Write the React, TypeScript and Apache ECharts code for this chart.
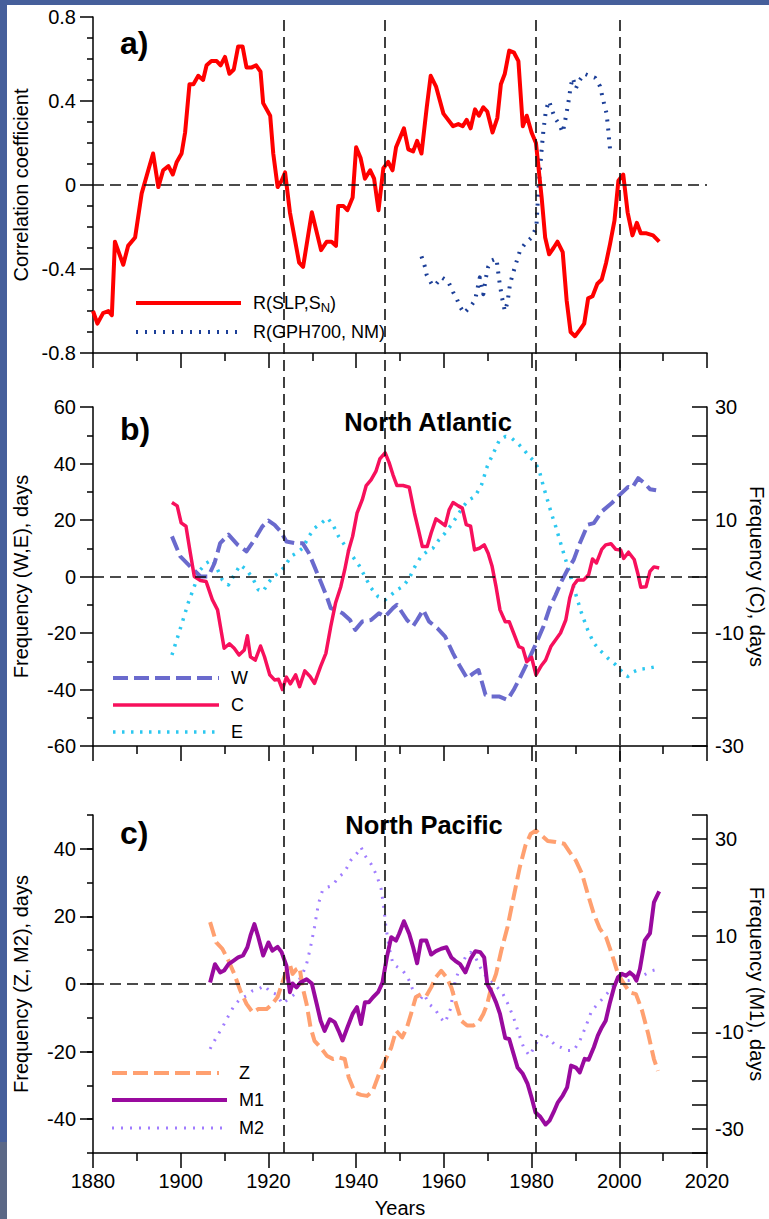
import React, { useEffect, useRef } from 'react';
import * as echarts from 'echarts';

// ---------- data ----------
const YEAR_MIN = 1880;
const YEAR_MAX = 2020;
const epochYears = [1923.5, 1946.5, 1981, 2000];

// panel a: correlation coefficients
const slpSn: [number, number][] = [
  [1880, -0.6], [1881, -0.66], [1882.3, -0.61], [1883.5, -0.6], [1884.3, -0.62], [1885, -0.27],
  [1886.9, -0.38], [1888, -0.29], [1889.6, -0.25], [1891.1, -0.04], [1892.6, 0.07], [1893.7, 0.15],
  [1894.9, -0.01], [1896, 0.07], [1897.2, 0.09], [1898.2, 0.05], [1899.1, 0.11], [1900.2, 0.15],
  [1901, 0.25], [1902, 0.48], [1902.9, 0.48], [1904, 0.52], [1905.1, 0.5], [1905.9, 0.57],
  [1907, 0.59], [1908.2, 0.59], [1909.1, 0.57], [1910.1, 0.61], [1911.1, 0.53], [1912.1, 0.55],
  [1913.1, 0.66], [1914.1, 0.66], [1915, 0.56], [1916.2, 0.56], [1917.2, 0.57], [1918.2, 0.54],
  [1918.8, 0.39], [1920.4, 0.33], [1921.1, 0.15], [1922.1, -0.01], [1923, 0.02], [1923.8, 0.06],
  [1924.9, -0.13], [1927, -0.37], [1927.9, -0.39], [1929.9, -0.13], [1932, -0.31], [1933.3, -0.27],
  [1934.4, -0.27], [1935.4, -0.29], [1935.9, -0.1], [1937.1, -0.1], [1938, -0.12], [1939.2, -0.06],
  [1940, 0.18], [1941, 0.13], [1942, 0.03], [1943.2, 0.07], [1944.1, 0.03], [1945.1, -0.12],
  [1946.2, 0.08], [1947.3, 0.11], [1948.3, 0.07], [1949.1, 0.18], [1950.9, 0.27], [1951.9, 0.17],
  [1953, 0.16], [1953.9, 0.21], [1954.9, 0.15], [1956.1, 0.37], [1957, 0.52], [1958.2, 0.47],
  [1959.9, 0.34], [1962.1, 0.28], [1963.3, 0.29], [1964.3, 0.28], [1965.2, 0.31], [1966.1, 0.27],
  [1967.1, 0.36], [1968, 0.33], [1969, 0.37], [1969.9, 0.35], [1971.1, 0.25], [1972.2, 0.32],
  [1973, 0.48], [1973.9, 0.53], [1974.9, 0.64], [1976, 0.63], [1977, 0.59], [1978, 0.28],
  [1978.9, 0.33], [1980, 0.25], [1981, 0.2], [1981.8, 0.04], [1982.3, -0.06], [1983.1, -0.25],
  [1984, -0.33], [1985, -0.3], [1985.9, -0.27], [1987.1, -0.32], [1988, -0.55], [1988.9, -0.7],
  [1989.9, -0.72], [1991, -0.69], [1992, -0.66], [1992.9, -0.54], [1993.9, -0.53], [1995, -0.47],
  [1996, -0.45], [1997, -0.37], [1997.9, -0.28], [1998.9, -0.17], [1999.8, 0.02], [2000.9, 0.05],
  [2001.9, -0.13], [2003, -0.24], [2004, -0.18], [2004.9, -0.23], [2006.2, -0.23], [2007.7, -0.24],
  [2009.1, -0.27],
];

const gph700Nm: [number, number][] = [
  [1954.9, -0.34], [1955.7, -0.39], [1956.1, -0.43], [1957.2, -0.47], [1957.9, -0.48], [1959.5, -0.44],
  [1961, -0.46], [1962.1, -0.51], [1962.9, -0.54], [1963.7, -0.58], [1964.6, -0.61], [1966, -0.58],
  [1967.1, -0.55], [1967.8, -0.48], [1968.2, -0.44], [1969, -0.52], [1969.6, -0.44], [1970.1, -0.39],
  [1970.9, -0.36], [1972, -0.35], [1972.6, -0.45], [1973.2, -0.53], [1973.9, -0.6], [1974.5, -0.56],
  [1975.1, -0.47], [1976.2, -0.39], [1977.4, -0.31], [1978.5, -0.28], [1980, -0.25], [1981.1, -0.2],
  [1981.3, -0.12], [1981.5, -0.04], [1981.9, 0.07], [1982.3, 0.17], [1982.7, 0.26], [1983.3, 0.36],
  [1984, 0.4], [1984.6, 0.36], [1985.3, 0.32], [1986.3, 0.29], [1987.1, 0.25], [1987.6, 0.3],
  [1988.2, 0.37], [1988.6, 0.42], [1988.9, 0.47], [1989.4, 0.51], [1990.1, 0.46], [1991, 0.5],
  [1992, 0.53], [1993.2, 0.52], [1994.5, 0.51], [1995.6, 0.47], [1996.5, 0.39], [1997.1, 0.34],
  [1997.5, 0.26], [1997.7, 0.21], [1997.9, 0.17],
];

// panel b: North Atlantic (W, E on left axis; C on right axis)
const wFreq: [number, number][] = [
  [1898, 14.2], [1899.9, 7.1], [1902.2, 3.5], [1904.5, 0], [1906.3, 0], [1907.7, 4.7], [1909, 11.8],
  [1910.9, 14.8], [1913, 11.2], [1915, 8.9], [1916.8, 13], [1918.6, 17.7], [1920, 19.8], [1921.4, 18.3],
  [1922.8, 15.9], [1924.1, 12.4], [1926, 11.8], [1927.8, 11.8], [1929.2, 8.3], [1930.5, 3.5],
  [1931.9, -1.8], [1933.3, -7.1], [1934.2, -11.2], [1935.6, -12], [1936.9, -13], [1938.6, -15.4],
  [1939.8, -18.9], [1941.4, -15.9], [1943.4, -15.4], [1945.2, -13], [1946.6, -14.2], [1948.4, -11.2],
  [1949.3, -10], [1951.6, -15.4], [1953, -17.5], [1953.9, -15.4], [1955.3, -11.8], [1956.6, -15.9],
  [1958.5, -18.3], [1960.3, -21.3], [1962.1, -27.2], [1963.5, -31.3], [1965.3, -36], [1966.7, -34.3],
  [1967.9, -33.1], [1969.5, -41.9], [1970.8, -42.5], [1972.7, -42.5], [1974.5, -43.7], [1975.9, -40.2],
  [1977.3, -36], [1978.6, -31.9], [1980, -27.2], [1981.4, -22.4], [1982.7, -17.7], [1984.1, -11.2],
  [1985.5, -6.5], [1986.8, -1.8], [1988.2, 2.4], [1989.6, 5.9], [1991, 11.8], [1992.8, 18.3],
  [1994.2, 18.9], [1996, 23], [1998.3, 26], [2000.1, 28.9], [2002, 31.7], [2002.9, 31.3],
  [2004.3, 34.8], [2005.7, 33.1], [2007, 30.9], [2008.4, 30.5],
];

const cFreq: [number, number][] = [
  [1898, 13.1], [1899.2, 12.5], [1900.1, 9.5], [1901.2, 8.9], [1902.2, 4.1], [1903.1, 0], [1904.5, -0.7],
  [1905.8, -0.9], [1907.2, -4.1], [1908.4, -5.9], [1909.9, -12.7], [1911.1, -11.9], [1912.2, -12.7],
  [1913.3, -13.9], [1914.5, -13], [1915.2, -10.5], [1915.9, -14.2], [1917, -14.8], [1918.2, -12.3],
  [1919.1, -14.2], [1920.3, -17.4], [1921.4, -18.3], [1922.3, -18.2], [1923.2, -20], [1924.1, -17.8],
  [1925, -19], [1926.2, -17.4], [1927.1, -19.5], [1928.3, -16.7], [1929.5, -17.7], [1930.5, -18.9],
  [1931.9, -15.9], [1933.1, -13.6], [1934.2, -8.9], [1935.3, -4.7], [1936.5, -1.8], [1937.4, 1.2],
  [1938.3, 4.7], [1939.2, 7.1], [1940.2, 11.2], [1941.4, 13.6], [1942.3, 16.1], [1943.4, 17.1],
  [1944.5, 18.6], [1945.4, 20.8], [1946.6, 21.9], [1947.5, 20.2], [1948.4, 18], [1949.3, 16.1],
  [1950.7, 16.1], [1952.1, 15.8], [1953.3, 11.2], [1954.2, 8.3], [1955.1, 5.3], [1956.2, 5.3],
  [1957.1, 7.7], [1958.2, 10.2], [1959.1, 9.7], [1960.3, 9], [1961.2, 11.8], [1962.1, 13.1],
  [1963.3, 12.5], [1964.2, 12.1], [1965.1, 9.2], [1966.1, 8.9], [1967, 4.7], [1968.1, 5], [1969.2, 5.6],
  [1970.1, 4.1], [1971, 1.8], [1971.9, -1.8], [1972.8, -5.9], [1974, -8], [1974.9, -8], [1975.9, -10],
  [1977.1, -12.4], [1978, -12.7], [1978.9, -15.1], [1980, -14.3], [1981, -17.4], [1982.3, -15.7],
  [1983.2, -14.8], [1984.4, -12.4], [1985.5, -11.2], [1986.6, -10], [1987.8, -7.7], [1988.7, -3.8],
  [1989.6, -1.5], [1990.5, -0.6], [1991.9, -0.6], [1993, 0.3], [1993.9, 3.1], [1994.8, 2.4], [1996, 4.8],
  [1996.9, 5.6], [1998.1, 5.8], [1999.2, 4.8], [2000.3, 4.7], [2001, 3.2], [2002.1, 4.3], [2003.4, 3],
  [2004.3, 0.3], [2004.9, -1.9], [2006.1, -1.8], [2007, 0.9], [2007.9, 1.7], [2009.1, 1.5],
];

const eFreq: [number, number][] = [
  [1898, -27.8], [1899.2, -21.9], [1900.3, -16.5], [1901.7, -9.4], [1903.1, -3.5], [1904.5, 2.4],
  [1905.8, 4.7], [1907.2, 5.9], [1908.4, 2.4], [1909.5, -1.2], [1910.9, -3], [1912.2, 0.6], [1913.6, 4.1],
  [1915, 2.4], [1916.4, -0.6], [1917.7, -4.7], [1918.8, -5.3], [1920, -2.1], [1921.2, 0], [1922.3, 1.2],
  [1923.7, 3.5], [1925.1, 7.1], [1926.4, 8.3], [1927.8, 10], [1929.2, 14.2], [1930.5, 17.1],
  [1931.9, 18.7], [1933.5, 20.7], [1934.7, 18.3], [1936, 14.2], [1937.9, 10], [1939.2, 7.1],
  [1940.6, 4.1], [1942, 0], [1943.4, -4.1], [1945, -7.1], [1946.6, -8.3], [1948, -6.5], [1949.3, -4.7],
  [1950.7, -3.5], [1952.1, -0.6], [1953.4, 3.5], [1954.8, 7.1], [1956.2, 8.9], [1957.5, 10],
  [1958.9, 13], [1960.3, 15.4], [1961.7, 18.3], [1963, 21.3], [1964.4, 24.8], [1965.8, 27.2],
  [1967.1, 28.3], [1968.6, 32.5], [1969.9, 39], [1971.3, 43.7], [1972.7, 48.4], [1974.1, 49.6],
  [1975.4, 49], [1976.8, 47.2], [1978.2, 44.9], [1979.5, 42.5], [1980.9, 40.2], [1981.8, 37.2],
  [1982.7, 31.9], [1983.6, 27.2], [1984.5, 22.4], [1985.5, 17.7], [1986.4, 13], [1987.3, 8.3],
  [1988.7, 1.2], [1990, -5.9], [1991.4, -13], [1992.8, -18.9], [1994.2, -23.6], [1995.5, -26],
  [1997.4, -28.9], [1999.2, -31.3], [2000.6, -33.7], [2001.9, -35.4], [2003.3, -33.7], [2004.7, -32.8],
  [2006.5, -32.5], [2008.4, -31.9],
];

// panel c: North Pacific (Z, M2 on left axis; M1 on right axis)
const zFreq: [number, number][] = [
  [1906.7, 18.3], [1908.1, 12.3], [1909.5, 10.4], [1910.9, 6.9], [1912.2, 3], [1913.6, -2], [1915, -5.9],
  [1916.4, -8.4], [1917.7, -7.4], [1919.6, -7.4], [1920.9, -5.9], [1922.1, -3.8], [1923.2, 0.5],
  [1924.1, 3.9], [1924.9, 5.7], [1925.5, 3], [1926.4, 4.4], [1927.1, 4.9], [1927.8, -1], [1928.7, -5.9],
  [1929.6, -12.8], [1930.5, -16.8], [1931.9, -18.8], [1933.3, -21.2], [1934.7, -22.2], [1936, -21.7],
  [1937.4, -22.2], [1938.3, -27.6], [1939.7, -32.1], [1941.1, -32.8], [1942.5, -33.1], [1943.8, -31.6],
  [1945.2, -26.7], [1946.6, -22.7], [1948, -18.8], [1949.1, -13.8], [1950.5, -15.8], [1951.6, -12.8],
  [1952.5, -8.9], [1953.6, -3.9], [1954.8, -3], [1956, -3.5], [1957.1, -1], [1958.2, 2], [1959.4, 3.9],
  [1960.6, 2], [1961.7, -1], [1962.8, -5.9], [1964, -10.9], [1965.3, -12.3], [1966.7, -12.3],
  [1967.9, -11.4], [1969, -8.9], [1969.9, -5.9], [1970.8, -1], [1971.9, 3], [1973.1, 9.9], [1974.5, 16.8],
  [1975.9, 25.7], [1977.3, 34.5], [1978.6, 41], [1979.8, 44.4], [1981, 45.4], [1982.3, 43.9],
  [1983.7, 42.3], [1985.5, 42], [1987.4, 41.5], [1988.7, 39], [1990.1, 36.5], [1991.5, 32.6],
  [1992.8, 26.7], [1994.2, 20.7], [1995.6, 16.3], [1997, 13.8], [1998.3, 8.9], [1999.7, 3], [2001.1, 0],
  [2002.4, -2.5], [2003.8, -3], [2005.2, -7.9], [2006.6, -14.8], [2007.9, -22.2], [2008.8, -25.7],
];

const m1Freq: [number, number][] = [
  [1906.7, 0.3], [1907.8, 4.1], [1909, 2.4], [1909.9, 2.8], [1910.9, 4.1], [1912, 4.8], [1913.1, 5.5],
  [1914.2, 5.9], [1915.2, 7.6], [1915.9, 10], [1916.8, 12.4], [1917.7, 9.7], [1918.8, 5.9], [1920, 8.6],
  [1920.9, 6.9], [1922.1, 7.7], [1923, 6.6], [1924.1, 3.8], [1924.9, -1.7], [1925.5, 0.1], [1926.4, -0.7],
  [1927.3, 0.3], [1928.7, 1], [1929.9, 0.1], [1931, -4.1], [1931.9, -7.6], [1932.8, -9.7], [1934, -7.3],
  [1935.1, -7.9], [1936, -9.7], [1936.9, -11.7], [1938, -9], [1939.2, -6.2], [1940.2, -4.8],
  [1941.1, -8.3], [1942, -3.8], [1942.9, -3.8], [1943.8, -2.8], [1945, -1.7], [1946, 0.3], [1947, 5.5],
  [1948, 9.7], [1949.1, 9], [1949.8, 10.4], [1950.9, 13], [1952.1, 10.4], [1953, 7.6], [1953.9, 4.3],
  [1954.8, 9], [1956, 9], [1957.1, 6.1], [1958.2, 6.8], [1959.4, 7.3], [1960.6, 7.6], [1961.7, 5.5],
  [1962.6, 4.8], [1963.7, 4.1], [1964.9, 2.4], [1966.1, 5.2], [1967.2, 6.8], [1968.3, 6.6], [1969.2, 5.5],
  [1969.9, 0], [1970.8, -1.5], [1971.9, -3.8], [1972.8, -6.2], [1974, -11.2], [1974.9, -11.4],
  [1975.9, -14.5], [1976.8, -17.3], [1978, -18.6], [1979.1, -20.7], [1980, -23.5], [1980.9, -26.6],
  [1982, -27.5], [1983.2, -29.1], [1984.1, -28.3], [1985, -26.6], [1986, -24.5], [1987.1, -23.1],
  [1988.1, -21.4], [1989, -16.9], [1990.1, -17.3], [1991, -18.3], [1992.1, -15.5], [1993, -15.7],
  [1994.2, -13.1], [1995.1, -10.7], [1996, -9], [1996.9, -7.6], [1997.8, -4.1], [1998.8, -0.7],
  [1999.7, 1.4], [2000.6, 2.1], [2001.5, 1.7], [2002.4, 2.4], [2003.3, 1.7], [2003.9, 0.7], [2004.7, 3.1],
  [2005.8, 9], [2007, 10.5], [2007.9, 16.9], [2009.1, 19.2],
];

const m2Freq: [number, number][] = [
  [1906.7, -19.2], [1908.1, -15.8], [1909.5, -12.8], [1910.9, -9.4], [1912.2, -6.4], [1913.6, -4.4],
  [1915, -3.5], [1916.4, -2], [1917.7, -1.5], [1919.1, -0.5], [1920.5, -2.5], [1921.8, -3], [1923.2, -5.9],
  [1924.6, -4.4], [1926, -3], [1926.9, 1], [1927.8, 3], [1928.7, 5.9], [1929.6, 10.9], [1930.5, 16.8],
  [1931.4, 23.7], [1932.3, 27.6], [1933.3, 28.6], [1934.6, 29.1], [1936, 31.6], [1937.4, 33.1],
  [1938.7, 36.5], [1940.1, 38.5], [1941.1, 40.5], [1942, 38], [1943.4, 35.5], [1944.7, 32.1],
  [1945.7, 28.1], [1946.3, 22.7], [1946.8, 16.8], [1947.5, 10.9], [1948.4, 5.9], [1949.6, 4.9],
  [1950.7, 3.9], [1952.1, 1], [1953.3, -3], [1954.4, -4.9], [1955.5, -3], [1956.6, -5.9], [1958, -7.4],
  [1959.1, -9.9], [1960.3, -11.4], [1961.5, -7.4], [1962.6, 1], [1963.7, 4.9], [1964.9, 7.9],
  [1966.1, 9.4], [1967.2, 7.9], [1968.3, 4.9], [1969.5, 2.5], [1970.8, 1], [1972.2, -1], [1973.5, -3],
  [1974.6, -5.9], [1975.9, -9.9], [1977.1, -14.8], [1978.2, -18.8], [1979.5, -21.2], [1980.4, -19.2],
  [1981.6, -16.3], [1982.7, -14.3], [1984.1, -16.3], [1985.5, -18.3], [1986.8, -18.8], [1988.2, -19.7],
  [1989.6, -19.7], [1991, -16.8], [1992.3, -12.8], [1993.7, -7.9], [1995.1, -5.9], [1996.5, -3.9],
  [1997.8, -2], [1999.2, 0.5], [2000.6, 1], [2002, 1], [2003.3, 1.5], [2004.7, 2], [2006.1, 3],
  [2007.4, 3.9], [2008.8, 4.4],
];

const panelCMajorTicks = [-40, -20, 0, 20, 40];
const rightLabelValues = [-30, -10, 10, 30];

// ---------- styles ----------
const FONT = '"Liberation Sans", Arial, Helvetica, sans-serif';
const BLACK = '#000000';
const COL = {
  red: '#ff0000',
  navy: '#1c3f98',
  w: '#6a6acd',
  c: '#f7105c',
  e: '#2cc8f0',
  z: '#ffa070',
  m1: '#990a9e',
  m2: '#a07cff',
};
const tickStyle = { color: BLACK, width: 1.5 };
const refLine = { color: '#111111', width: 1.6, type: [11, 6] as number[] };

const GRID_LEFT = 93;
const GRID_W = 614;

function xAxisFor(gridIndex: number, withLabels: boolean) {
  return {
    type: 'value',
    gridIndex,
    min: YEAR_MIN,
    max: YEAR_MAX,
    interval: 20,
    axisLine: { show: true, onZero: false, lineStyle: tickStyle },
    axisTick: { show: true, inside: false, length: 15, lineStyle: tickStyle },
    minorTick: { show: true, splitNumber: 2, length: 8, lineStyle: tickStyle },
    splitLine: { show: false },
    minorSplitLine: { show: false },
    axisLabel: {
      show: withLabels,
      formatter: (v: number) => String(v),
      fontSize: 20,
      color: BLACK,
      fontFamily: FONT,
      margin: 18,
    },
    name: withLabels ? 'Years' : '',
    nameLocation: 'middle',
    nameGap: 45,
    nameTextStyle: { fontSize: 20, color: BLACK, fontFamily: FONT },
  };
}

const nameStyle = { fontSize: 20, color: BLACK, fontFamily: FONT };
const labelStyle = { fontSize: 20, color: BLACK, fontFamily: FONT };

function zeroMark() {
  return {
    silent: true,
    symbol: ['none', 'none'],
    label: { show: false },
    lineStyle: refLine,
    emphasis: { disabled: true },
    data: [{ yAxis: 0 }],
  };
}

function lineSeries(
  name: string,
  data: [number, number][],
  xAxisIndex: number,
  yAxisIndex: number,
  color: string,
  width: number,
  type: any,
  extra: any = {}
) {
  return {
    name,
    type: 'line',
    data,
    xAxisIndex,
    yAxisIndex,
    showSymbol: false,
    symbol: 'none',
    smooth: false,
    z: 3,
    lineStyle: { color, width, type, cap: 'butt', join: 'round' },
    emphasis: { disabled: true },
    ...extra,
  };
}

function legendLine(x1: number, x2: number, y: number, color: string, width: number, dash: number[] | null) {
  return {
    type: 'line',
    shape: { x1, y1: y, x2, y2: y },
    style: { stroke: color, lineWidth: width, lineDash: dash || undefined, lineCap: 'butt' },
    z: 10,
  };
}

function legendText(x: number, y: number, text: string) {
  return {
    type: 'text',
    x,
    y,
    style: { text, fontSize: 18, fontFamily: FONT, fill: BLACK, align: 'left', verticalAlign: 'middle' },
    z: 10,
  };
}

function boldText(x: number, y: number, text: string, size: number, align: string, vAlign: string) {
  return {
    type: 'text',
    x,
    y,
    style: { text, fontSize: size, fontWeight: 'bold', fontFamily: FONT, fill: BLACK, align, verticalAlign: vAlign },
    z: 10,
  };
}

export default function App() {
  const ref = useRef<HTMLDivElement>(null);

  useEffect(() => {
    if (!ref.current) return;
    const chart = echarts.init(ref.current, null, { renderer: 'svg' });

    const rightFormatter = (v: number) => (rightLabelValues.indexOf(Math.round(v)) >= 0 ? String(Math.round(v)) : '');

    const option: any = {
      animation: false,
      backgroundColor: '#ffffff',
      textStyle: { fontFamily: FONT },
      grid: [
        { left: GRID_LEFT, top: 17, width: GRID_W, height: 336, outerBoundsMode: 'none', containLabel: false },
        { left: GRID_LEFT, top: 407, width: GRID_W, height: 339, outerBoundsMode: 'none', containLabel: false },
        { left: GRID_LEFT, top: 815, width: GRID_W, height: 338, outerBoundsMode: 'none', containLabel: false },
        { left: GRID_LEFT, top: 20, width: GRID_W, height: 1133, outerBoundsMode: 'none', containLabel: false },
      ],
      xAxis: [
        xAxisFor(0, false),
        xAxisFor(1, false),
        xAxisFor(2, true),
        { type: 'value', gridIndex: 3, min: YEAR_MIN, max: YEAR_MAX, show: false },
      ],
      yAxis: [
        // 0: panel a
        {
          type: 'value', gridIndex: 0, position: 'left', min: -0.8, max: 0.8, interval: 0.4,
          axisLine: { show: true, lineStyle: tickStyle },
          axisTick: { show: true, inside: false, length: 13, lineStyle: tickStyle },
          minorTick: { show: true, splitNumber: 4, length: 6, lineStyle: tickStyle },
          splitLine: { show: false }, minorSplitLine: { show: false },
          axisLabel: { ...labelStyle, margin: 17, formatter: (v: number) => String(Math.round(v * 10) / 10) },
          name: 'Correlation coefficient', nameLocation: 'middle', nameGap: 62, nameTextStyle: nameStyle,
          nameMoveOverlap: false,
        },
        // 1: panel b left
        {
          type: 'value', gridIndex: 1, position: 'left', min: -60, max: 60, interval: 20,
          axisLine: { show: true, lineStyle: tickStyle },
          axisTick: { show: true, inside: false, length: 13, lineStyle: tickStyle },
          minorTick: { show: true, splitNumber: 2, length: 6, lineStyle: tickStyle },
          splitLine: { show: false }, minorSplitLine: { show: false },
          axisLabel: { ...labelStyle, margin: 17 },
          name: 'Frequency (W,E), days', nameLocation: 'middle', nameGap: 62, nameTextStyle: nameStyle,
          nameMoveOverlap: false,
        },
        // 2: panel b right
        {
          type: 'value', gridIndex: 1, position: 'right', min: -30, max: 30, interval: 5,
          axisLine: { show: true, lineStyle: tickStyle },
          axisTick: { show: true, inside: true, length: 15, lineStyle: tickStyle },
          splitLine: { show: false },
          axisLabel: { ...labelStyle, margin: 8, formatter: rightFormatter },
          name: 'Frequency (C), days', nameLocation: 'middle', nameGap: 40, nameRotate: -90,
          nameTextStyle: nameStyle, nameMoveOverlap: false,
        },
        // 3: panel c left (line + minor ticks)
        {
          type: 'value', gridIndex: 2, position: 'left', min: -50, max: 50, interval: 10,
          axisLine: { show: true, lineStyle: tickStyle },
          axisTick: { show: true, inside: false, length: 6, lineStyle: tickStyle },
          splitLine: { show: false },
          axisLabel: { show: false },
          name: 'Frequency (Z, M2), days', nameLocation: 'middle', nameGap: 62, nameTextStyle: nameStyle,
          nameMoveOverlap: false,
        },
        // 4: panel c left (major ticks + labels)
        {
          type: 'value', gridIndex: 2, position: 'left', min: -50, max: 50,
          axisLine: { show: false },
          axisTick: { show: true, inside: false, length: 13, lineStyle: tickStyle, customValues: panelCMajorTicks },
          splitLine: { show: false },
          axisLabel: { ...labelStyle, margin: 17, customValues: panelCMajorTicks },
        },
        // 5: panel c right
        {
          type: 'value', gridIndex: 2, position: 'right', min: -35, max: 35, interval: 5,
          axisLine: { show: true, lineStyle: tickStyle },
          axisTick: { show: true, inside: true, length: 15, lineStyle: tickStyle },
          splitLine: { show: false },
          axisLabel: { ...labelStyle, margin: 8, formatter: rightFormatter },
          name: 'Frequency (M1), days', nameLocation: 'middle', nameGap: 40, nameRotate: -90,
          nameTextStyle: nameStyle, nameMoveOverlap: false,
        },
        // 6: overlay for epoch lines
        { type: 'value', gridIndex: 3, min: 0, max: 1, show: false },
      ],
      series: [
        {
          type: 'line', xAxisIndex: 3, yAxisIndex: 6, data: [], z: 1, symbol: 'none',
          markLine: {
            silent: true, symbol: ['none', 'none'], label: { show: false }, lineStyle: refLine,
            emphasis: { disabled: true },
            data: epochYears.map((y) => ({ xAxis: y })),
          },
        },
        lineSeries('R(GPH700, NM)', gph700Nm, 0, 0, COL.navy, 4, [2, 7]),
        lineSeries('R(SLP,SN)', slpSn, 0, 0, COL.red, 4, 'solid', { markLine: zeroMark() }),
        lineSeries('E', eFreq, 1, 1, COL.e, 3.5, [2.5, 6.5], { markLine: zeroMark() }),
        lineSeries('W', wFreq, 1, 1, COL.w, 4, [15, 6]),
        lineSeries('C', cFreq, 1, 2, COL.c, 3.5, 'solid'),
        lineSeries('M2', m2Freq, 2, 3, COL.m2, 3, [2, 7], { markLine: zeroMark() }),
        lineSeries('Z', zFreq, 2, 3, COL.z, 4, [15, 6]),
        lineSeries('M1', m1Freq, 2, 5, COL.m1, 4, 'solid'),
      ],
      graphic: [
        // slide frame strips
        { type: 'rect', shape: { x: 0, y: 0, width: 769, height: 5 }, style: { fill: '#465f9b' }, z: 0 },
        { type: 'rect', shape: { x: 0, y: 0, width: 7, height: 1142 }, style: { fill: '#465f9b' }, z: 0 },
        { type: 'rect', shape: { x: 0, y: 1142, width: 7, height: 77 }, style: { fill: '#5b6886' }, z: 0 },
        // panel letters and titles
        boldText(120, 27, 'a)', 32, 'left', 'top'),
        boldText(120, 413, 'b)', 32, 'left', 'top'),
        boldText(120, 817, 'c)', 32, 'left', 'top'),
        boldText(428, 422, 'North Atlantic', 25.5, 'center', 'middle'),
        boldText(424, 825, 'North Pacific', 25.5, 'center', 'middle'),
        // legend a
        legendLine(136, 241, 303, COL.red, 4, null),
        {
          type: 'text', x: 253, y: 303, z: 10,
          style: {
            text: '{a|R(SLP,S}{b|N}{a|)}',
            fontFamily: FONT, fill: BLACK, align: 'left', verticalAlign: 'middle',
            rich: {
              a: { fontSize: 18, fontFamily: FONT, fill: BLACK, lineHeight: 22, verticalAlign: 'middle' },
              b: { fontSize: 13, fontFamily: FONT, fill: BLACK, lineHeight: 12, verticalAlign: 'bottom' },
            },
          },
        },
        legendLine(136, 238, 332, COL.navy, 4, [2, 7]),
        legendText(253, 332, 'R(GPH700, NM)'),
        // legend b
        legendLine(113, 219, 678, COL.w, 4, [15, 6]),
        legendText(231, 678, 'W'),
        legendLine(113, 219, 705, COL.c, 3.5, null),
        legendText(231, 705, 'C'),
        legendLine(113, 219, 732, COL.e, 3.5, [2.5, 6.5]),
        legendText(231, 732, 'E'),
        // legend c
        legendLine(112, 219, 1073, COL.z, 4, [15, 6]),
        legendText(239, 1073, 'Z'),
        legendLine(112, 227, 1100, COL.m1, 4, null),
        legendText(239, 1100, 'M1'),
        legendLine(112, 225, 1128, COL.m2, 3, [2, 7]),
        legendText(239, 1128, 'M2'),
      ],
    };

    chart.setOption(option);
    return () => chart.dispose();
  }, []);

  return (
    <div
      ref={ref}
      style={{ position: 'absolute', left: 0, top: 0, width: 769, height: 1219, background: '#fff' }}
    />
  );
}
